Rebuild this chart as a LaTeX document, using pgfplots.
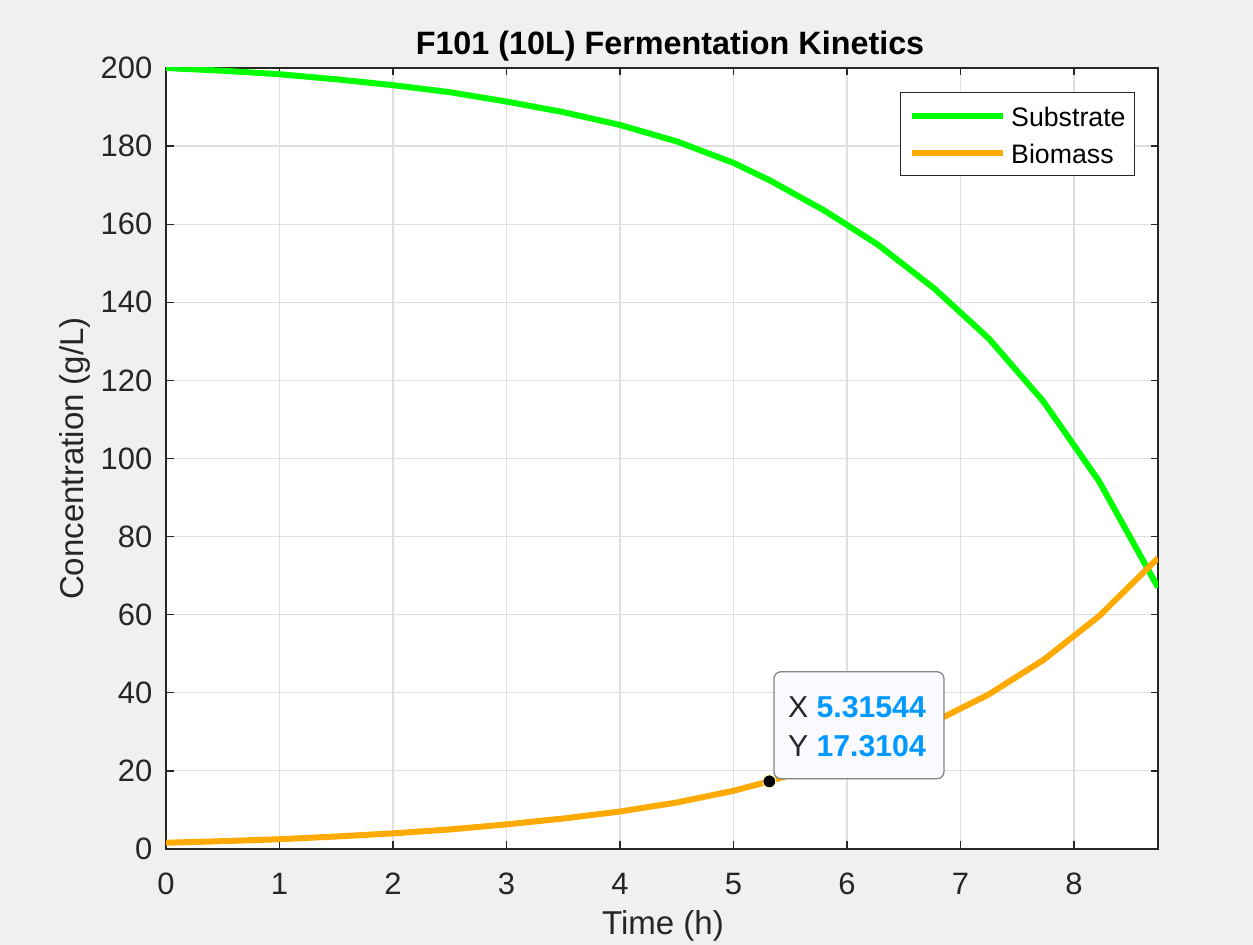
\documentclass[border=0pt]{standalone}
\usepackage{pgfplots}
\pgfplotsset{compat=1.18}
\usepackage{fontspec}
\setmainfont{Liberation Sans}
\definecolor{bgcol}{HTML}{F0F0F0}
\definecolor{axiscol}{HTML}{262626}
\definecolor{gridcol}{HTML}{DFDFDF}
\definecolor{subcol}{HTML}{00FF00}
\definecolor{biocol}{HTML}{FFAA00}
\definecolor{tipblue}{HTML}{0099FF}
\definecolor{tipfill}{HTML}{FAFAFF}
\definecolor{tipborder}{HTML}{858585}
\begin{document}
\begin{tikzpicture}
\fill[bgcol] (0,0) rectangle (125.3mm,94.5mm);
\begin{axis}[
  at={(16.6mm,9.6mm)}, anchor=south west,
  scale only axis, width=99.2mm, height=78.1mm,
  xmin=0, xmax=8.74, ymin=0, ymax=200,
  xtick={0,1,...,8}, ytick={0,20,...,200},
  axis background/.style={fill=white},
  grid=major,
  grid style={color=gridcol, line width=0.12mm},
  axis line style={color=axiscol, line width=0.13mm},
  tick style={color=axiscol, line width=0.13mm},
  major tick length=0.75mm,
  tick align=inside,
  xtick pos=both, ytick pos=both,
  /pgf/number format/assume math mode=true,
  tick label style={font=\fontsize{8.8pt}{10pt}\selectfont, color=axiscol, inner sep=0pt},
  xticklabel style={anchor=base, yshift=-4.6mm},
  yticklabel style={anchor=east, xshift=-1.3mm},
  legend style={at={(0.977,0.969)}, anchor=north east, draw=axiscol, line width=0.13mm,
    fill=white, font=\fontsize{7.6pt}{9pt}\selectfont, text=black,
    inner xsep=0.9mm, inner ysep=1.0mm, row sep=1.1mm,
    nodes={inner sep=0pt, text height=2.4mm, text depth=0.2mm},
    /tikz/every even column/.append style={column sep=0.5mm},
    /tikz/every odd column/.append style={column sep=0.5mm}},
  legend cell align=left,
  legend image code/.code={\draw[#1] (0mm,0mm) -- (9.1mm,0mm);},
]
\addplot[subcol, line width=0.6mm] coordinates {
 (0,200.0) (0.5,199.3) (1,198.4) (1.5,197.1) (2,195.6) (2.5,193.8) (3,191.4)
 (3.5,188.7) (4,185.4) (4.5,181.2) (5,175.7) (5.315,171.3) (5.80,163.5)
 (6.27,154.8) (6.77,143.5) (7.25,130.7) (7.73,114.6) (8.22,94.2) (8.74,67.0)};
\addlegendentry{Substrate}
\addplot[biocol, line width=0.6mm] coordinates {
 (0,1.6) (0.5,2.0) (1,2.5) (1.5,3.2) (2,4.0) (2.5,5.0) (3,6.3)
 (3.5,7.8) (4,9.6) (4.5,11.9) (5,14.9) (5.315,17.31) (5.80,21.6)
 (6.27,26.4) (6.77,32.6) (7.25,39.6) (7.73,48.4) (8.22,59.6) (8.74,74.5)};
\addlegendentry{Biomass}
\addplot[only marks, mark=*, mark size=0.65mm, mark options={fill=black, draw=yellow!25!white, line width=0.1mm}, forget plot] coordinates {(5.31544,17.3104)};
\node[anchor=south west, draw=tipborder, fill=tipfill, rounded corners=0.7mm, line width=0.13mm,
  minimum width=17mm, minimum height=10.7mm, inner sep=0pt, xshift=0.4mm, yshift=0.2mm] (tip) at (axis cs:5.31544,17.3104) {};
\node[anchor=base west, inner sep=0pt, font=\fontsize{8.6pt}{10pt}\selectfont] at ([xshift=1.4mm,yshift=-4.6mm]tip.north west) {\textcolor{axiscol}{X} \textcolor{tipblue}{\bfseries 5.31544}};
\node[anchor=base west, inner sep=0pt, font=\fontsize{8.6pt}{10pt}\selectfont] at ([xshift=1.4mm,yshift=-8.5mm]tip.north west) {\textcolor{axiscol}{Y} \textcolor{tipblue}{\bfseries 17.3104}};
\end{axis}
\node[anchor=base, font=\fontsize{9.2pt}{11pt}\selectfont\bfseries, text=black, inner sep=0pt] at (67.0mm,89.0mm) {F101 (10L) Fermentation Kinetics};
\node[anchor=base, font=\fontsize{9.4pt}{11pt}\selectfont, text=axiscol, inner sep=0pt] at (66.3mm,1.0mm) {Time (h)};
\node[anchor=base, rotate=90, font=\fontsize{9.4pt}{11pt}\selectfont, text=axiscol, inner sep=0pt] at (8.3mm,48.65mm) {Concentration (g/L)};
\pgfresetboundingbox
\useasboundingbox (0,0) rectangle (125.3mm,94.5mm);
\end{tikzpicture}
\end{document}
